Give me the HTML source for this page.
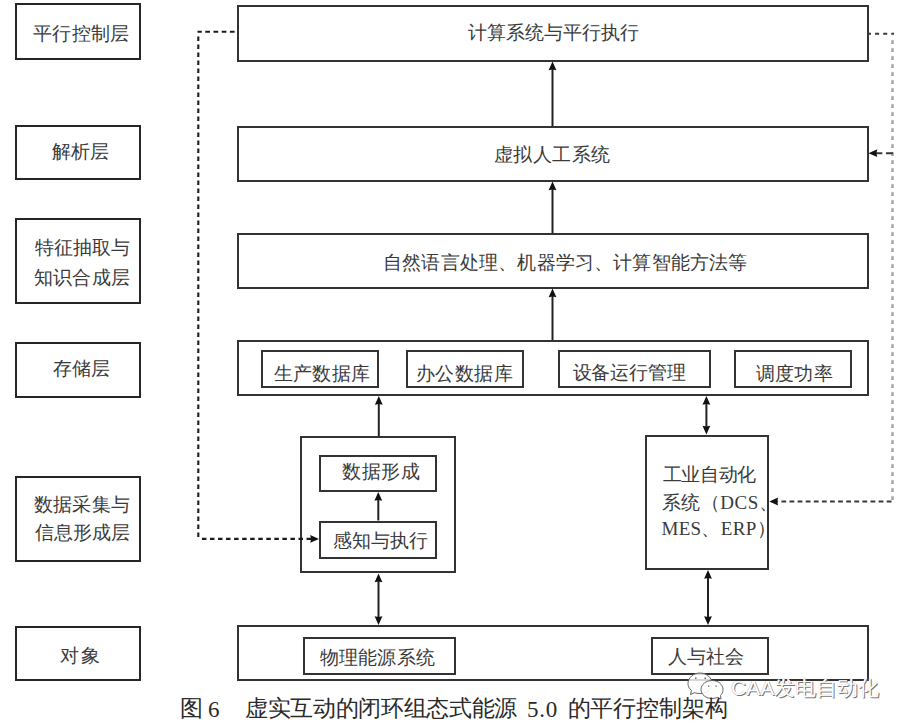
<!DOCTYPE html>
<html><head><meta charset="utf-8">
<style>
html,body{margin:0;padding:0;background:#fff;}
body{width:909px;height:728px;position:relative;overflow:hidden;font-family:"Liberation Serif",serif;color:#3a3a3a;}
.b{position:absolute;box-sizing:border-box;border-style:solid;}
.t{position:absolute;white-space:nowrap;line-height:1;}
svg{position:absolute;left:0;top:0;}
</style></head><body>
<div class="b" style="left:15px;top:3px;width:126px;height:57px;border-width:2px;border-color:#262626"></div>
<div class="b" style="left:15px;top:125px;width:126px;height:55px;border-width:2px;border-color:#262626"></div>
<div class="b" style="left:15px;top:218px;width:126px;height:86px;border-width:2px;border-color:#262626"></div>
<div class="b" style="left:15px;top:341.5px;width:126px;height:56.0px;border-width:2px;border-color:#262626"></div>
<div class="b" style="left:15px;top:476px;width:126px;height:86px;border-width:2px;border-color:#262626"></div>
<div class="b" style="left:15px;top:625.5px;width:126px;height:55.0px;border-width:2px;border-color:#262626"></div>
<div class="b" style="left:236.5px;top:5px;width:632.0px;height:56.5px;border-width:2px;border-color:#333"></div>
<div class="b" style="left:236.5px;top:126px;width:632.0px;height:55.5px;border-width:2px;border-color:#333"></div>
<div class="b" style="left:236.5px;top:233px;width:632.0px;height:55.5px;border-width:2px;border-color:#333"></div>
<div class="b" style="left:236.5px;top:340px;width:632.0px;height:56px;border-width:2px;border-color:#333"></div>
<div class="b" style="left:236.5px;top:624.5px;width:632.0px;height:56.5px;border-width:2px;border-color:#333"></div>
<div class="b" style="left:261px;top:350px;width:117.5px;height:38px;border-width:2px;border-color:#333"></div>
<div class="b" style="left:405.5px;top:350px;width:118.5px;height:38px;border-width:2px;border-color:#333"></div>
<div class="b" style="left:557.5px;top:350px;width:153.5px;height:38px;border-width:2px;border-color:#333"></div>
<div class="b" style="left:734px;top:350px;width:118px;height:38px;border-width:2px;border-color:#333"></div>
<div class="b" style="left:299.5px;top:436px;width:156.0px;height:137px;border-width:2px;border-color:#333"></div>
<div class="b" style="left:319px;top:454.5px;width:118px;height:37.5px;border-width:2px;border-color:#333"></div>
<div class="b" style="left:319px;top:520.5px;width:118px;height:38.0px;border-width:2px;border-color:#333"></div>
<div class="b" style="left:644.5px;top:434.5px;width:124.5px;height:135.5px;border-width:2px;border-color:#333"></div>
<div class="b" style="left:303px;top:637px;width:153px;height:38px;border-width:2px;border-color:#333"></div>
<div class="b" style="left:650.5px;top:637px;width:118.0px;height:38px;border-width:2px;border-color:#333"></div>
<svg width="909" height="728" viewBox="0 0 909 728">
<line x1="552.5" y1="126" x2="552.5" y2="65.5" stroke="#222" stroke-width="2" fill="none"/>
<polygon points="552.50,61.50 556.40,70.30 552.50,69.40 548.60,70.30" fill="#111"/>
<line x1="552.5" y1="233" x2="552.5" y2="185.5" stroke="#222" stroke-width="2" fill="none"/>
<polygon points="552.50,181.50 556.40,190.30 552.50,189.40 548.60,190.30" fill="#111"/>
<line x1="552.5" y1="340" x2="552.5" y2="292.5" stroke="#222" stroke-width="2" fill="none"/>
<polygon points="552.50,288.50 556.40,297.30 552.50,296.40 548.60,297.30" fill="#111"/>
<line x1="378.8" y1="436" x2="378.8" y2="400" stroke="#222" stroke-width="2" fill="none"/>
<polygon points="378.80,396.00 382.70,404.80 378.80,403.90 374.90,404.80" fill="#111"/>
<line x1="378.3" y1="520.5" x2="378.3" y2="496" stroke="#222" stroke-width="2" fill="none"/>
<polygon points="378.30,492.00 382.20,500.80 378.30,499.90 374.40,500.80" fill="#111"/>
<line x1="378.5" y1="577.5" x2="378.5" y2="621" stroke="#222" stroke-width="2" fill="none"/>
<polygon points="378.50,573.50 382.40,582.30 378.50,581.40 374.60,582.30" fill="#111"/>
<polygon points="378.50,625.00 382.40,616.20 378.50,617.10 374.60,616.20" fill="#111"/>
<line x1="706.4" y1="400" x2="706.4" y2="430.5" stroke="#222" stroke-width="2" fill="none"/>
<polygon points="706.40,396.00 710.30,404.80 706.40,403.90 702.50,404.80" fill="#111"/>
<polygon points="706.40,434.50 710.30,425.70 706.40,426.60 702.50,425.70" fill="#111"/>
<line x1="708" y1="574" x2="708" y2="621" stroke="#222" stroke-width="2" fill="none"/>
<polygon points="708.00,570.00 711.90,578.80 708.00,577.90 704.10,578.80" fill="#111"/>
<polygon points="708.00,625.00 711.90,616.20 708.00,617.10 704.10,616.20" fill="#111"/>
<path d="M234.6,31.8 H197.5" stroke="#1a1a1a" stroke-width="2.1" fill="none" stroke-dasharray="4.7 3.5"/>
<path d="M198.3,36.6 V539" stroke="#1a1a1a" stroke-width="2.1" fill="none" stroke-dasharray="4.5 3.5"/>
<path d="M201.9,538.9 H312" stroke="#1a1a1a" stroke-width="2.1" fill="none" stroke-dasharray="4.5 3.55"/>
<polygon points="319.00,538.90 310.20,535.00 311.10,538.90 310.20,542.80" fill="#111"/>
<path d="M867,33.7 H894" stroke="#383838" stroke-width="2" fill="none" stroke-dasharray="4 4.1"/>
<path d="M892.5,40.3 V502.5" stroke="#a8a8a8" stroke-width="2.6" fill="none" stroke-dasharray="3.6 4.4"/>
<path d="M876,153.2 H882.3 M886,153.2 H893" stroke="#383838" stroke-width="2" fill="none"/>
<polygon points="868.50,153.20 877.30,149.30 876.40,153.20 877.30,157.10" fill="#111"/>
<path d="M891.5,501.5 H777" stroke="#383838" stroke-width="2" fill="none" stroke-dasharray="4.8 3.3"/>
<polygon points="769.30,501.50 778.10,497.60 777.20,501.50 778.10,505.40" fill="#111"/>
</svg>
<svg width="909" height="728" viewBox="0 0 909 728">
<g stroke="#555" stroke-width="0.9">
<path d="M700,673 C707,673 712,678 712,683.5 C712,689 707,693.5 700,693.5 C698,693.5 696,693.2 694.5,692.7 L690.5,694.5 L691.5,690.5 C689,688.5 688,686 688,683.5 C688,678 693,673 700,673 Z" fill="rgba(255,255,255,0.8)"/>
<path d="M712,680.5 C718,680.5 723,684.5 723,689.5 C723,692 722,694 720.5,695.5 L721,699 L717.5,697.5 C716,698 714,698.5 712,698.5 C706,698.5 701,694.5 701,689.5 C701,684.5 706,680.5 712,680.5 Z" fill="rgba(255,255,255,0.9)"/>
</g>
<g fill="#666"><rect x="695" y="677.5" width="1.5" height="1.5"/><rect x="704.5" y="677.5" width="1.5" height="1.5"/>
<rect x="708" y="685.5" width="1.3" height="1.3"/><rect x="715.5" y="685.5" width="1.3" height="1.3"/></g>
</svg>
<div class="t" style="left:731px;top:677px;font-size:21px;font-family:'Liberation Sans',sans-serif;color:#fff;text-shadow:1px 1px 0 #777,-0.5px -0.5px 0 #bbb">CAA发电自动化</div>
<div class="t" style="left:33.00px;top:24.05px;font-size:19px;letter-spacing:0.360px;">平行控制层</div>
<div class="t" style="left:51.50px;top:142.10px;font-size:19px;letter-spacing:0.360px;">解析层</div>
<div class="t" style="left:35.00px;top:238.40px;font-size:19px;letter-spacing:0.000px;">特征抽取与</div>
<div class="t" style="left:34.00px;top:267.50px;font-size:19px;letter-spacing:0.225px;">知识合成层</div>
<div class="t" style="left:52.50px;top:359.40px;font-size:19px;letter-spacing:-0.000px;">存储层</div>
<div class="t" style="left:34.00px;top:495.20px;font-size:19px;letter-spacing:0.225px;">数据采集与</div>
<div class="t" style="left:35.00px;top:523.40px;font-size:19px;letter-spacing:0.000px;">信息形成层</div>
<div class="t" style="left:60.00px;top:645.90px;font-size:19px;letter-spacing:1.980px;">对象</div>
<div class="t" style="left:467.50px;top:23.00px;font-size:19px;letter-spacing:0.023px;">计算系统与平行执行</div>
<div class="t" style="left:494.00px;top:145.20px;font-size:19px;letter-spacing:0.432px;">虚拟人工系统</div>
<div class="t" style="left:383.00px;top:253.40px;font-size:19px;letter-spacing:0.190px;">自然语言处理、机器学习、计算智能方法等</div>
<div class="t" style="left:274.00px;top:364.00px;font-size:19px;letter-spacing:0.225px;">生产数据库</div>
<div class="t" style="left:415.50px;top:364.00px;font-size:19px;letter-spacing:0.630px;">办公数据库</div>
<div class="t" style="left:572.50px;top:362.80px;font-size:19px;letter-spacing:-0.036px;">设备运行管理</div>
<div class="t" style="left:756.00px;top:363.80px;font-size:19px;letter-spacing:0.240px;">调度功率</div>
<div class="t" style="left:342.00px;top:461.80px;font-size:19px;letter-spacing:0.540px;">数据形成</div>
<div class="t" style="left:332.50px;top:531.00px;font-size:19px;letter-spacing:0.180px;">感知与执行</div>
<div class="t" style="left:662.50px;top:464.90px;font-size:19px;letter-spacing:-0.270px;">工业自动化</div>
<div class="t" style="left:661.50px;top:492.60px;font-size:19px;letter-spacing:0.570px;">系统（DCS、</div>
<div class="t" style="left:661.50px;top:519.40px;font-size:19px;letter-spacing:0.309px;">MES、ERP）</div>
<div class="t" style="left:320.00px;top:648.10px;font-size:19px;letter-spacing:0.144px;">物理能源系统</div>
<div class="t" style="left:667.50px;top:646.90px;font-size:19px;letter-spacing:0.240px;">人与社会</div>
<div class="t" style="left:180.00px;top:697.00px;font-size:23px;letter-spacing:0.000px;color:#2a2a2a">图</div>
<div class="t" style="left:208.00px;top:697.50px;font-size:23px;letter-spacing:0.000px;color:#2a2a2a">6</div>
<div class="t" style="left:245.00px;top:697.10px;font-size:23px;letter-spacing:-0.327px;color:#2a2a2a">虚实互动的闭环组态式能源</div>
<div class="t" style="left:527.00px;top:697.50px;font-size:23px;letter-spacing:0.720px;color:#2a2a2a">5.0</div>
<div class="t" style="left:567.50px;top:697.10px;font-size:23px;letter-spacing:-0.120px;color:#2a2a2a">的平行控制架构</div>
</body></html>
